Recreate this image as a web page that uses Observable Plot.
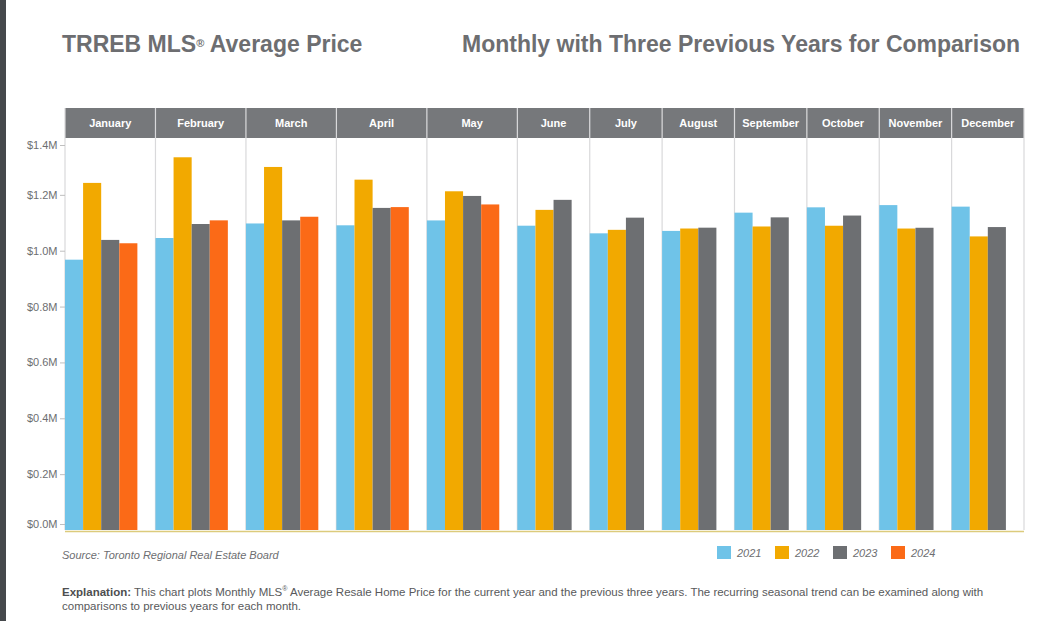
<!DOCTYPE html>
<html><head><meta charset="utf-8">
<script src="https://cdn.jsdelivr.net/npm/d3@7"></script>
<script src="https://cdn.jsdelivr.net/npm/@observablehq/plot@0.6"></script>
<style>
html,body{margin:0;padding:0}
body{width:1050px;height:621px;background:#fff;font-family:"Liberation Sans",Arial,sans-serif;position:relative;overflow:hidden}
#strip{position:absolute;left:0;top:0;width:6px;height:621px;background:#45484c}
.t{position:absolute;top:31px;font-weight:bold;font-size:23px;color:#6d6e71;white-space:nowrap;line-height:26px}
.t sup{font-size:11px;vertical-align:top;position:relative;top:-1px}
#chart{position:absolute;left:0;top:100px}
#source{position:absolute;left:62px;top:549px;font-size:11px;font-style:italic;color:#6d6e71}
#legend{position:absolute;left:717px;top:546px;display:flex;gap:0;font-size:11px;font-style:italic;color:#6d6e71}
#legend .it{display:flex;align-items:center;width:58px}
#legend .sw{width:14px;height:13px;margin-right:6px}
.ex{position:absolute;left:62px;font-size:11.5px;line-height:13px;color:#58595b;white-space:nowrap}
.ex b{color:#4d4e50}
.ex sup{font-size:7px;line-height:0}
</style></head>
<body>
<div id="strip"></div>
<div class="t" style="left:62px">TRREB MLS<sup>®</sup> Average Price</div>
<div class="t" style="left:462px">Monthly with Three Previous Years for Comparison</div>
<div id="chart"></div>
<div id="source">Source: Toronto Regional Real Estate Board</div>
<div id="legend"></div>
<div class="ex" style="top:586px"><b>Explanation:</b> This chart plots Monthly MLS<sup>®</sup> Average Resale Home Price for the current year and the previous three years. The recurring seasonal trend can be examined along with</div>
<div class="ex" style="top:600px">comparisons to previous years for each month.</div>
<script>
const months = ["January","February","March","April","May","June","July","August","September","October","November","December"];
const years = ["2021","2022","2023","2024"];
const colors = ["#6fc3e8","#f2a900","#6d6f72","#fb6a17"];
const price2021 = [967885,1045488,1097565,1090992,1108453,1089536,1062256,1070911,1136280,1155345,1163323,1157837];
const price2022 = [1242793,1334544,1299894,1254436,1212806,1146254,1074754,1079500,1086762,1089428,1079395,1051216];
const price2023 = [1038668,1095617,1108606,1153269,1196101,1182120,1118374,1082496,1119428,1125928,1082179,1084692];
const price2024 = [1026703,1108720,1121615,1156167,1165691];
const yTicks = [0,200000,400000,600000,800000,1000000,1200000,1400000];

const series = [price2021, price2022, price2023, price2024];
const bars = [];
const keys = [];
const groups = [];
months.forEach((m, i) => {
  const first = keys.length;
  years.forEach((y, j) => {
    const v = series[j][i];
    if (v != null) {
      const key = m + "|" + y;
      keys.push(key);
      bars.push({month: m, year: y, key, value: v});
    }
  });
  const gap = m + "|gap";
  keys.push(gap);
  groups.push({month: m, firstKey: keys[first], lastKey: gap});
});

const fmt = d => "$" + (d / 1e6).toFixed(1) + "M";

function header(index, scales, values, dims) {
  const x = scales.x;
  const bw = x.bandwidth ? x.bandwidth() : (dims.width - dims.marginLeft - dims.marginRight) / keys.length;
  const g = d3.create("svg:g");
  const top = dims.marginTop - 31, h = 30;
  const bottom = dims.height - dims.marginBottom;
  for (const gr of groups) {
    const x1 = x(gr.firstKey), x2 = x(gr.lastKey) + bw;
    g.append("rect").attr("x", x1).attr("y", top).attr("width", x2 - x1).attr("height", h).attr("fill", "#76787b");
    g.append("text").attr("x", (x1 + x2) / 2).attr("y", top + h / 2).attr("dy", "0.35em")
      .attr("text-anchor", "middle").attr("fill", "#fff").attr("font-weight", "bold")
      .attr("font-size", 11).text(gr.month);
  }
  const edges = groups.map(gr => x(gr.firstKey));
  edges.push(x(groups[groups.length - 1].lastKey) + bw);
  for (const e of edges) {
    g.append("line").attr("x1", e).attr("x2", e).attr("y1", top).attr("y2", bottom)
      .attr("stroke", "#d9d9db").attr("stroke-width", 1.2);
  }
  return g.node();
}

const axisOpts = {tickFormat: fmt, tickSize: 5, tickPadding: 3, stroke: "#bfbfbf", fill: "#6d6e71", label: null};

const plot = Plot.plot({
  width: 1050,
  height: 438,
  marginLeft: 65,
  marginRight: 26,
  marginTop: 39,
  marginBottom: 8,
  style: {fontFamily: "Liberation Sans, Arial, sans-serif", fontSize: "11px", color: "#6d6e71", background: "transparent"},
  x: {domain: keys, padding: 0, round: false, axis: null},
  y: {domain: [0, 1400000], axis: null},
  color: {domain: years, range: colors},
  marks: [
    header,
    Plot.ruleY([0], {stroke: "#dccb7c", strokeWidth: 1.6, dy: 1}),
    Plot.barY(bars, {x: "key", y: "value", fill: "year"}),
    Plot.axisY(yTicks.slice(1, -1), axisOpts),
    Plot.axisY([yTicks[yTicks.length - 1]], {...axisOpts, dy: 6}),
    Plot.axisY([yTicks[0]], {...axisOpts, dy: -6})
  ]
});
document.getElementById("chart").appendChild(plot);

const legend = document.getElementById("legend");
years.forEach((y, i) => {
  const it = document.createElement("div");
  it.className = "it";
  it.innerHTML = `<span class="sw" style="background:${colors[i]}"></span><span>${y}</span>`;
  legend.appendChild(it);
});
</script>
</body></html>
